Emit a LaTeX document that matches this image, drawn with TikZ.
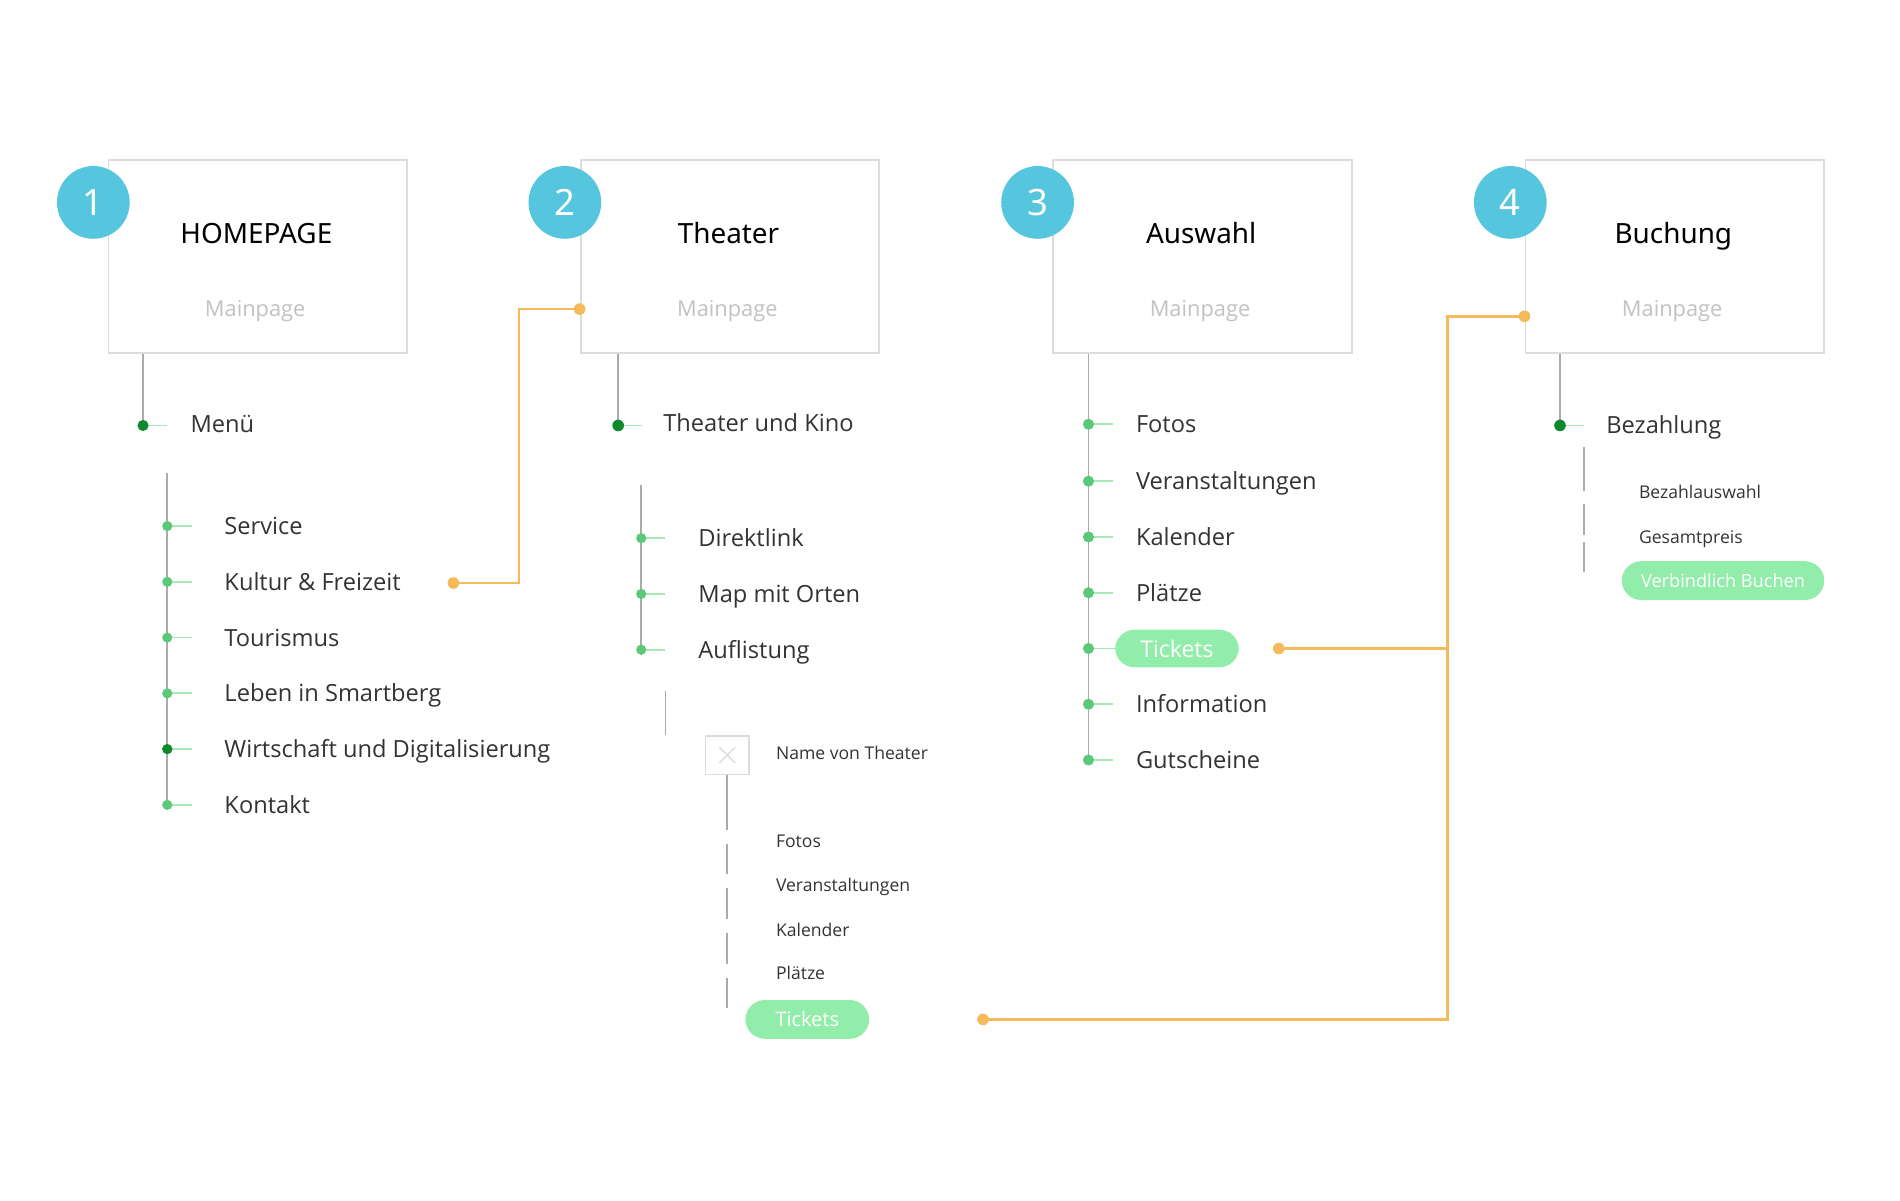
\documentclass[tikz,border=0pt]{standalone}
\usepackage{fontspec}
\usetikzlibrary{calc}
\setmainfont{Open Sans}
\newfontfamily\headfont{Noto Sans}
\definecolor{circ}{HTML}{56C5DE}
\definecolor{boxgray}{HTML}{DCDCDC}
\definecolor{subgray}{HTML}{C2C2C2}
\definecolor{stemgray}{HTML}{ABABAB}
\definecolor{dkgreen}{HTML}{0E8A2E}
\definecolor{dotgreen}{HTML}{5CC97A}
\definecolor{tickgreen}{HTML}{A6EBB6}
\definecolor{pillgreen}{HTML}{93EDAA}
\definecolor{orng}{HTML}{F5BA5A}
\definecolor{txt}{HTML}{333333}
\begin{document}
\begin{tikzpicture}[x=1pt,y=-1pt,
  pagebox/.style={draw=boxgray, line width=1.6pt, fill=white, minimum width=246pt, minimum height=159pt, inner sep=0pt},
  numcirc/.style={circle, fill=circ, minimum size=60pt, inner sep=0pt, text=white, font=\headfont\fontsize{30}{30}\selectfont},
  ptitle/.style={anchor=base, inner sep=0pt, font=\headfont\fontsize{23}{26}\selectfont, text=black},
  psub/.style={anchor=base, inner sep=0pt, font=\fontsize{18}{20}\selectfont, text=subgray},
  item/.style={anchor=west, inner sep=0pt, text=txt, font=\fontsize{19.5}{22}\selectfont, text height=14pt, text depth=0pt},
  smallitem/.style={anchor=west, inner sep=0pt, text=txt, font=\fontsize{14.5}{17}\selectfont, text height=10.5pt, text depth=0pt},
  pill/.style={rounded corners=16pt, fill=pillgreen, text=white, inner sep=0pt, minimum height=32pt},
  stem/.style={draw=stemgray, line width=1.3pt},
  tickline/.style={draw=tickgreen, line width=1.4pt},
  conn/.style={draw=orng, line width=2pt},
]
\useasboundingbox (0,0) rectangle (1567.5,990);

% ---------- page boxes ----------
\foreach \i/\cx/\t in {1/212.5/HOMEPAGE, 2/602/Theater, 3/992/Auswahl, 4/1381.5/Buchung}{
  \node[pagebox] (b\i) at (\cx,211.5) {};
  \node[ptitle] (t\i) at (\cx-1,200.5) {\t};
  \node[psub] (s\i) at (\cx-2,261) {Mainpage};
}
\node[numcirc] (c1) at (77,167) {1};
\node[numcirc] (c2) at (466,167) {2};
\node[numcirc] (c3) at (856,167) {3};
\node[numcirc] (c4) at (1246,167) {4};

% ---------- column 1 ----------
\coordinate (m1) at (118,351);
\draw[stem] (m1 |- b1.south) -- (m1);
\draw[tickline] (m1) -- ++(20,0);
\fill[dkgreen] (m1) circle (4.6);
\node[item] (menu) at (157,350) {Menü};
\coordinate (l1a) at (138,390);
\coordinate (l1b) at (138,665);
\draw[stem] (l1a) -- (l1b);
\foreach \y/\t/\n in {434/Service/i11, 480/Kultur \& Freizeit/i12, 526/Tourismus/i13, 572/Leben in Smartberg/i14, 618/Wirtschaft und Digitalisierung/i15, 664/Kontakt/i16}{
  \draw[tickline] (138,\y) -- ++(20,0);
  \fill[dotgreen] (138,\y) circle (4.2);
  \node[item] (\n) at (185,\y) {\t};
}
\fill[dkgreen] (138,618) circle (4.2);

% ---------- column 2 ----------
\coordinate (m2) at (510,351);
\draw[stem] (m2 |- b2.south) -- (m2);
\draw[tickline] (m2) -- ++(20,0);
\fill[dkgreen] (m2) circle (4.8);
\node[item] (tuk) at (547,349) {Theater und Kino};
\coordinate (l2a) at (529,400);
\coordinate (l2b) at (529,540);
\draw[stem] (l2a) -- (l2b);
\foreach \y/\t/\n in {444/Direktlink/i21, 490/Map mit Orten/i22, 536/Auflistung/i23}{
  \draw[tickline] (529,\y) -- ++(20,0);
  \fill[dotgreen] (529,\y) circle (4.2);
  \node[item] (\n) at (576,\y) {\t};
}
\coordinate (l2c) at (549,570);
\coordinate (l2d) at (549,606);
\draw[stem] (l2c) -- (l2d);
\node[draw=boxgray, line width=1.4pt, minimum width=36pt, minimum height=32pt, inner sep=0pt] (xbox) at (600,623) {};
\draw[draw=boxgray, line width=1.2pt] ($(xbox.center)+(-6.5,-6.5)$) -- ($(xbox.center)+(6.5,6.5)$)
  ($(xbox.center)+(-6.5,6.5)$) -- ($(xbox.center)+(6.5,-6.5)$);
\node[smallitem] (nvt) at (640,621) {Name von Theater};
\coordinate (d2a) at (600,685);
\coordinate (d2b) at (600,696);
\coordinate (d2c) at (600,832);
\draw[stem] (xbox.south) -- (d2a);
\draw[stem, dash pattern=on 25pt off 12pt] (d2b) -- (d2c);
\foreach \y/\t/\n in {694/Fotos/i31, 730/Veranstaltungen/i32, 767/Kalender/i33, 803/Plätze/i34}{
  \node[smallitem] (\n) at (640,\y) {\t};
}
\node[pill, minimum width=102pt, font=\fontsize{16.5}{18}\selectfont] (tick2) at (666,841) {Tickets};

% ---------- column 3 ----------
\coordinate (l3b) at (898,628);
\draw[stem] (l3b |- b3.south) -- (l3b);
\foreach \y/\t/\n in {350/Fotos/i41, 397/Veranstaltungen/i42, 443/Kalender/i43, 489/Plätze/i44, 581/Information/i46, 627/Gutscheine/i47}{
  \draw[tickline] (898,\y) -- ++(20,0);
  \fill[dotgreen] (898,\y) circle (4.6);
  \node[item] (\n) at (937,\y) {\t};
}
\draw[tickline] (898,535) -- ++(22,0);
\fill[dotgreen] (898,535) circle (4.6);
\node[pill, minimum width=102pt, minimum height=31pt, font=\fontsize{19}{21}\selectfont] (tick3) at (971,535) {Tickets};

% ---------- column 4 ----------
\coordinate (m4) at (1287,351);
\draw[stem] (m4 |- b4.south) -- (m4);
\draw[tickline] (m4) -- ++(20,0);
\fill[dkgreen] (m4) circle (4.8);
\node[item] (bez) at (1325,351) {Bezahlung};
\draw[stem] (1307,369) -- (1307,405) (1307,416) -- (1307,441) (1307,447) -- (1307,472);
\node[smallitem] (i51) at (1352,406) {Bezahlauswahl};
\node[smallitem] (i52) at (1352,443) {Gesamtpreis};
\node[pill, minimum width=167pt, font=\fontsize{15}{17}\selectfont] (vb) at (1421.5,479) {Verbindlich Buchen};

% ---------- orange connectors ----------
\coordinate (o1) at (374,481);
\coordinate (o1e) at (b2.west |- 0,255);
\draw[conn] (o1) -- (428,481) |- (o1e);
\fill[orng] (o1) circle (4.8);
\fill[orng] (o1e) circle (4.8);

\coordinate (o2) at (811,841);
\coordinate (o2e) at (b4.west |- 0,261);
\coordinate (jn) at (1194,535);
\draw[conn] (o2) -- (1194,841) |- (o2e);
\fill[orng] (o2) circle (4.8);
\fill[orng] (o2e) circle (4.8);
\coordinate (o3) at (1055,535);
\draw[conn] (o3) -- (jn);
\fill[orng] (o3) circle (4.8);
\end{tikzpicture}
\end{document}
